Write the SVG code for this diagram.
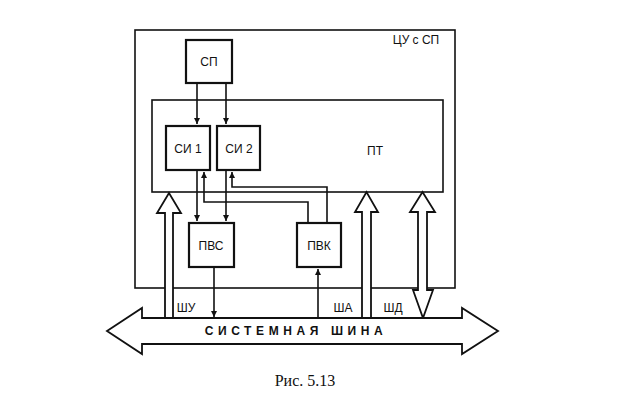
<svg xmlns="http://www.w3.org/2000/svg" width="624" height="415" viewBox="0 0 624 415">
<style>
.box{fill:none;stroke:#111;stroke-width:1.6}
.blk{fill:#fff;stroke:#111;stroke-width:2.2}
.ln{fill:none;stroke:#111;stroke-width:1.6}
.hol{fill:#fff;stroke:#111;stroke-width:1.8;stroke-linejoin:miter}
.t{font-family:"Liberation Sans",Arial,sans-serif;font-size:12px;fill:#111;text-anchor:middle}
</style>
<defs>
<marker id="ah" viewBox="0 0 10 10" refX="10" refY="5" markerWidth="6" markerHeight="8" orient="auto" markerUnits="userSpaceOnUse">
<path d="M0,0 L10,5 L0,10 z" fill="#111"/>
</marker>
</defs>
<rect width="624" height="415" fill="#fff"/>
<g id="cu">
<rect class="box" x="135" y="30" width="320" height="258"/>
<text class="t" x="416" y="44">ЦУ с СП</text>
</g>
<g id="pt">
<rect class="box" x="152" y="100" width="291" height="92"/>
<text class="t" x="375" y="155">ПТ</text>
</g>
<g id="sp">
<rect class="blk" x="186" y="40" width="46" height="43"/>
<text class="t" x="209" y="66">СП</text>
</g>
<g id="si1">
<rect class="blk" x="166" y="126" width="44" height="44"/>
<text class="t" x="188" y="153">СИ 1</text>
</g>
<g id="si2">
<rect class="blk" x="217" y="126" width="43" height="44"/>
<text class="t" x="239" y="153">СИ 2</text>
</g>
<g id="pvs">
<rect class="blk" x="189" y="223" width="45" height="44"/>
<text class="t" x="211" y="250">ПВС</text>
</g>
<g id="pvk">
<rect class="blk" x="297" y="223" width="44" height="44"/>
<text class="t" x="319" y="250">ПВК</text>
</g>
<g id="connectors">
<line class="ln" x1="197" y1="83" x2="197" y2="124" marker-end="url(#ah)"/>
<line class="ln" x1="226" y1="83" x2="226" y2="124" marker-end="url(#ah)"/>
<line class="ln" x1="197" y1="170" x2="197" y2="221" marker-end="url(#ah)"/>
<line class="ln" x1="226" y1="170" x2="226" y2="221" marker-end="url(#ah)"/>
<polyline class="ln" points="308,223 308,202 204,202 204,172" marker-end="url(#ah)"/>
<polyline class="ln" points="327,223 327,187 232,187 232,172" marker-end="url(#ah)"/>
<line class="ln" x1="214" y1="267" x2="214" y2="317" marker-end="url(#ah)"/>
<line class="ln" x1="318" y1="318" x2="318" y2="269" marker-end="url(#ah)"/>
<polygon class="hol" points="165,318 165,213 157,213 169,193 181,213 173,213 173,318"/>
<polygon class="hol" points="362,318 362,212 355,212 366.5,192 378,212 371,212 371,318"/>
<polygon class="hol" points="418,290 418,212 410,212 422.5,192 435,212 427,212 427,290 433,290 423,318 413,290"/>
<polygon class="hol" points="107,331 142,308 142,318 462,318 462,308 498,331 462,354 462,344 142,344 142,354"/>
</g>
<g id="labels">
<text class="t" x="186" y="312">ШУ</text>
<text class="t" x="343" y="312">ША</text>
<text class="t" x="393" y="312">ШД</text>
<text class="t" x="296" y="335" style="font-weight:bold;letter-spacing:4.6px">СИСТЕМНАЯ ШИНА</text>
<text x="305" y="386" style="font-family:'Liberation Serif','Times New Roman',serif;font-size:16px;fill:#111;text-anchor:middle">Рис. 5.13</text>
</g>
</svg>
